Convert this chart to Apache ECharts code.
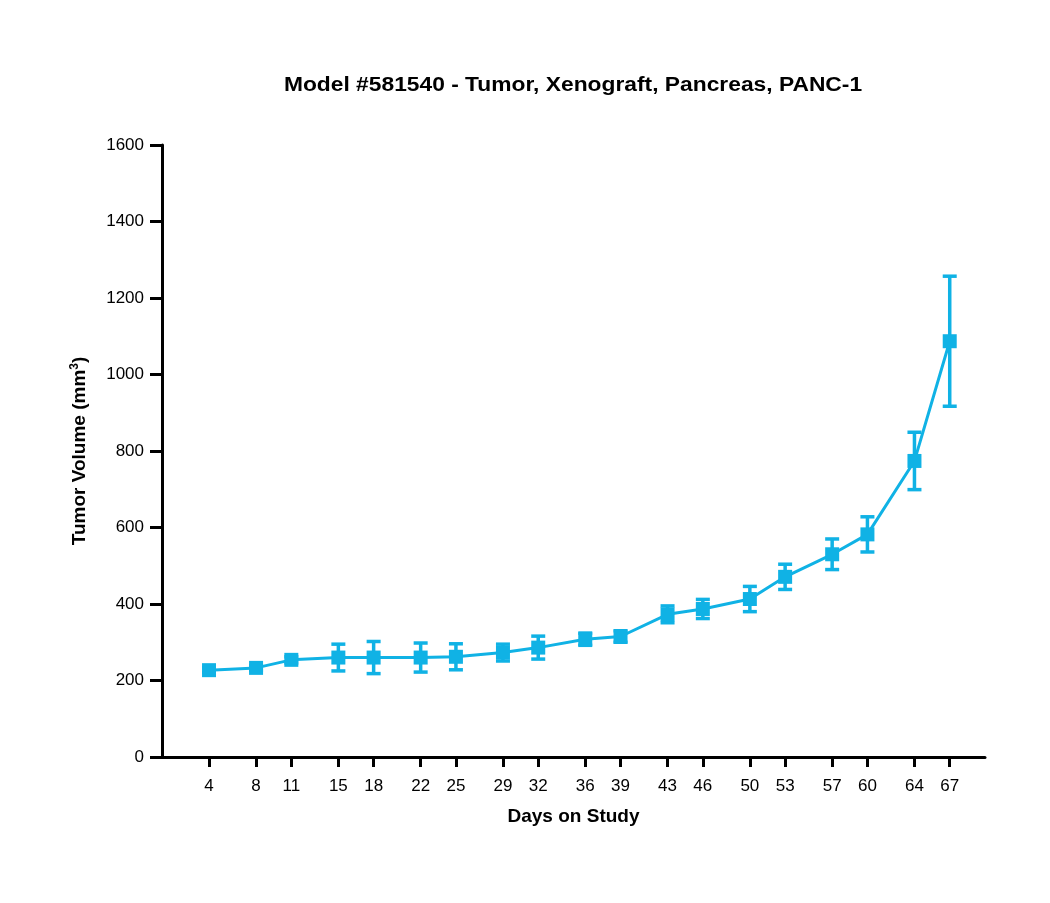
<!DOCTYPE html>
<html>
<head>
<meta charset="utf-8">
<script src="https://cdn.jsdelivr.net/npm/echarts@6/dist/echarts.min.js"></script>
<style>
  html, body { margin: 0; padding: 0; background: #fff; }
  #chart { width: 1050px; height: 903px; }
</style>
</head>
<body>
<div id="chart"></div>
<script>
var days = [4, 8, 11, 15, 18, 22, 25, 29, 32, 36, 39, 43, 46, 50, 53, 57, 60, 64, 67];
var meanVolume = [227, 233, 254, 260, 260, 260, 262, 273, 286, 308, 315, 373, 387, 413, 471, 530, 582, 774, 1087];
var semVolume = [6, 6, 8, 35, 42, 38, 34, 22, 30, 16, 15, 22, 25, 33, 33, 40, 46, 75, 170];
var yTicks = [0, 200, 400, 600, 800, 1000, 1200, 1400, 1600];

var color = '#10b2e5';
var font = 'Liberation Sans, Arial, sans-serif';

var meanData = days.map(function (d, i) { return [d, meanVolume[i]]; });
var errData = days.map(function (d, i) {
    return [d, meanVolume[i] - semVolume[i], meanVolume[i] + semVolume[i]];
});

var myChart = echarts.init(document.getElementById('chart'));
var option = {
    backgroundColor: '#fff',
    animation: false,
    // title drawn as graphic text so it can be widened a little like the reference
    graphic: [{
        type: 'text',
        x: 573,
        y: 85,
        scaleX: 1.14,
        style: {
            text: 'Model #581540 - Tumor, Xenograft, Pancreas, PANC-1',
            fontFamily: font, fontSize: 20, fontWeight: 'bold', fill: '#000',
            align: 'center', verticalAlign: 'middle'
        }
    }],
    grid: { left: 162, right: 65, top: 145, bottom: 146 },
    xAxis: {
        type: 'value',
        min: 0,
        max: 70,
        name: 'Days on Study',
        nameLocation: 'middle',
        nameGap: 50,
        nameTextStyle: { fontFamily: font, fontSize: 19, fontWeight: 'bold', color: '#000' },
        splitLine: { show: false },
        axisLine: { show: true, onZero: false, lineStyle: { color: '#000', width: 3 } },
        axisTick: { show: true, customValues: days, length: 10, lineStyle: { color: '#000', width: 3 } },
        axisLabel: {
            customValues: days,
            margin: 21,
            fontFamily: font, fontSize: 17, color: '#000'
        }
    },
    yAxis: {
        type: 'value',
        min: 0,
        max: 1600,
        interval: 200,
        name: '{n|Tumor Volume (mm}{s|3}{n|)}',
        nameLocation: 'middle',
        nameGap: 72,
        nameTextStyle: {
            rich: {
                n: { fontFamily: font, fontSize: 19, fontWeight: 'bold', color: '#000' },
                s: { fontFamily: font, fontSize: 12, fontWeight: 'bold', color: '#000', verticalAlign: 'top', padding: [0, 0, 9, 0] }
            }
        },
        splitLine: { show: false },
        axisLine: { show: true, lineStyle: { color: '#000', width: 3 } },
        axisTick: { show: true, customValues: yTicks, length: 12, lineStyle: { color: '#000', width: 3 } },
        axisLabel: {
            customValues: yTicks,
            margin: 18,
            formatter: function (v) { return String(v); },
            fontFamily: font, fontSize: 17, color: '#000'
        }
    },
    series: [
        {
            type: 'custom',
            name: 'SEM',
            z: 1,
            data: errData,
            encode: { x: 0, y: [1, 2] },
            renderItem: function (params, api) {
                var x = api.value(0);
                var lo = api.coord([x, api.value(1)]);
                var hi = api.coord([x, api.value(2)]);
                var half = 7;
                var style = { stroke: color, lineWidth: 3.5, fill: null };
                return {
                    type: 'group',
                    children: [
                        { type: 'line', shape: { x1: lo[0], y1: lo[1], x2: hi[0], y2: hi[1] }, style: style },
                        { type: 'line', shape: { x1: lo[0] - half, y1: lo[1], x2: lo[0] + half, y2: lo[1] }, style: style },
                        { type: 'line', shape: { x1: hi[0] - half, y1: hi[1], x2: hi[0] + half, y2: hi[1] }, style: style }
                    ]
                };
            }
        },
        {
            type: 'line',
            name: 'Mean',
            z: 2,
            data: meanData,
            symbol: 'rect',
            symbolSize: 14,
            lineStyle: { color: color, width: 3 },
            itemStyle: { color: color }
        }
    ]
};
myChart.setOption(option);
</script>
</body>
</html>
